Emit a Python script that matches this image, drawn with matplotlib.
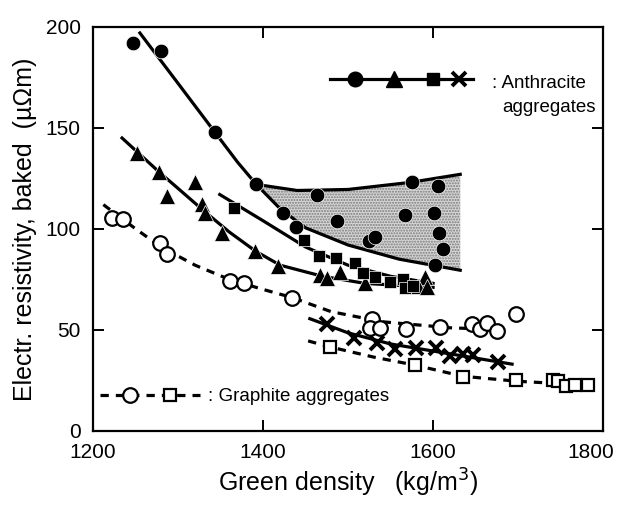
import numpy as np
import matplotlib.pyplot as plt
from matplotlib.transforms import ScaledTranslation

plt.rcParams['font.family'] = ['Liberation Sans', 'DejaVu Sans']

# anthracite aggregates, series 1 (filled circles)
circ_x = [1247, 1280, 1343, 1392, 1424, 1439, 1463, 1487, 1525, 1532,
          1567, 1575, 1601, 1606, 1607, 1612, 1602]
circ_y = [192, 188, 148, 122, 108, 101, 117, 104, 94, 96,
          107, 123, 108, 121, 98, 90, 82]
circ_fit_x = [1255, 1300, 1343, 1370, 1392, 1420, 1450, 1500, 1560, 1632]
circ_fit_y = [197, 172, 148, 133, 122, 110, 100.5, 92, 85, 79.5]
band_top_x = [1392, 1440, 1500, 1573, 1632]
band_top_y = [122, 119, 119.5, 123, 127]

# series 2 (filled triangles)
tri_x = [1252, 1278, 1287, 1320, 1328, 1332, 1352, 1391, 1418, 1467,
         1475, 1490, 1520, 1590, 1582, 1593]
tri_y = [137.5, 128, 116.5, 123, 112.5, 108, 98, 89, 81.5, 77,
         75.5, 78.5, 73, 76, 71.5, 71]
tri_fit_x = [1234, 1278, 1300, 1330, 1360, 1391, 1420, 1470, 1520, 1600]
tri_fit_y = [145, 128, 120, 109, 98.5, 89, 82, 76.5, 73, 71]

# series 3 (filled squares)
sq_x = [1366, 1448, 1466, 1486, 1508, 1518, 1532, 1549, 1565, 1567, 1576]
sq_y = [110.5, 94.5, 86.5, 85.5, 83, 78, 76, 73.5, 75, 70.5, 71.5]
sq_fit_x = [1349, 1400, 1450, 1500, 1550, 1600]
sq_fit_y = [117, 104, 91, 82, 76.5, 73]

# series 4 (crosses)
x_x = [1475, 1507, 1534, 1555, 1580, 1603, 1620, 1635, 1647, 1676]
x_y = [53, 46, 43.7, 40.7, 41.2, 41.2, 37, 38.2, 37.7, 34.2]
x_fit_x = [1455, 1500, 1550, 1600, 1650, 1693]
x_fit_y = [55.5, 48.5, 43, 39.5, 36, 33]

# graphite aggregates, open circles
oc_x = [1222, 1235, 1279, 1287, 1361, 1377, 1434, 1528, 1526, 1538,
        1568, 1608, 1646, 1655, 1663, 1675, 1698]
oc_y = [105.5, 105, 93, 87.5, 74, 73, 66, 55.5, 51, 51,
        50.5, 51.5, 53, 50.5, 53.5, 49.5, 58]
oc_fit_x = [1212, 1250, 1280, 1320, 1360, 1400, 1434, 1480, 1540, 1620, 1685]
oc_fit_y = [112, 100, 91, 82, 75, 70, 66, 59, 54, 51, 50]

# graphite aggregates, open squares
os_x = [1479, 1579, 1635, 1698, 1741, 1747, 1757, 1767, 1782]
os_y = [41.5, 32.5, 26.5, 25, 25, 24.5, 22, 22.5, 22.5]
os_fit_x = [1453, 1479, 1530, 1579, 1635, 1700, 1788]
os_fit_y = [44.5, 41.5, 36.5, 32.5, 27, 24.5, 22.5]

fig = plt.figure(figsize=(6.21, 5.08), dpi=100)
ax = fig.add_axes([0.150, 0.152, 0.821, 0.795])

lw = 2.3
dash = (0, (2.6, 2.2))

# shaded spread of the circle series
bx = np.linspace(1392, 1632, 80)
top = np.interp(bx, band_top_x, band_top_y)
bot = np.interp(bx, circ_fit_x, circ_fit_y)
ax.fill_between(bx, bot, top, facecolor='#d6d6d6',
                edgecolor='#7a7a7a', hatch='......', linewidth=0, zorder=1)
ax.plot(band_top_x, band_top_y, color='black', lw=lw, zorder=2)

ax.plot(circ_fit_x, circ_fit_y, color='black', lw=lw, zorder=2)
ax.plot(tri_fit_x, tri_fit_y, color='black', lw=lw, zorder=2)
ax.plot(sq_fit_x, sq_fit_y, color='black', lw=lw, zorder=2)
ax.plot(x_fit_x, x_fit_y, color='black', lw=lw, zorder=2)
ax.plot(oc_fit_x, oc_fit_y, color='black', lw=lw, ls=dash, zorder=2)
ax.plot(os_fit_x, os_fit_y, color='black', lw=lw, ls=dash, zorder=2)

ax.plot(circ_x, circ_y, 'o', ms=10.5, color='black', mec='white', mew=0.5, zorder=3)
ax.plot(tri_x, tri_y, '^', ms=11, color='black', mec='white', mew=0.5, zorder=3)
ax.plot(sq_x, sq_y, 's', ms=8.5, color='black', mec='white', mew=0.5, zorder=3)
ax.plot(x_x, x_y, 'x', ms=9.5, color='black', mew=2.8, zorder=3)
ax.plot(oc_x, oc_y, 'o', ms=10.5, mfc='white', mec='black', mew=1.6, zorder=3)
ax.plot(os_x, os_y, 's', ms=8.5, mfc='white', mec='black', mew=1.6, zorder=3)

# key for anthracite
ax.plot([1479, 1647], [174, 174], color='black', lw=lw, zorder=2)
ax.plot([1508], [174], 'o', ms=10.5, color='black', zorder=3)
ax.plot([1554], [174], '^', ms=11, color='black', zorder=3)
ax.plot([1600], [174], 's', ms=8.5, color='black', zorder=3)
ax.plot([1630], [174], 'x', ms=9.5, color='black', mew=2.8, zorder=3)
ax.text(1669, 172, ': Anthracite', fontsize=13.5, va='center', ha='left')
ax.text(1681, 160, 'aggregates', fontsize=13.5, va='center', ha='left')

# key for graphite
ax.plot([1208, 1326], [17.5, 17.5], color='black', lw=lw, ls=dash, zorder=2)
ax.plot([1243], [17.5], 'o', ms=10.5, mfc='white', mec='black', mew=1.6, zorder=3)
ax.plot([1291], [17.5], 's', ms=8.5, mfc='white', mec='black', mew=1.6, zorder=3)
ax.text(1335, 17, ': Graphite aggregates', fontsize=13.5, va='center', ha='left')

ax.set_xlim(1200, 1800)
ax.set_ylim(0, 200)
ax.set_xticks([1200, 1400, 1600, 1800])
ax.set_yticks([0, 50, 100, 150, 200])
ax.tick_params(direction='in', length=8, width=1.4, labelsize=15,
               top=True, right=True, pad=9)
for s in ax.spines.values():
    s.set_linewidth(1.6)

# pull the last x label inward so it stays on the canvas
last = ax.get_xticklabels()[-1]
last.set_transform(last.get_transform() + ScaledTranslation(-0.12, 0, fig.dpi_scale_trans))

ax.set_xlabel('Green density   (kg/m$^3$)', fontsize=18, labelpad=3)
ax.set_ylabel('Electr. resistivity, baked  (\u00b5\u03a9m)', fontsize=18, labelpad=6)

fig.savefig('out.png', dpi=100)
